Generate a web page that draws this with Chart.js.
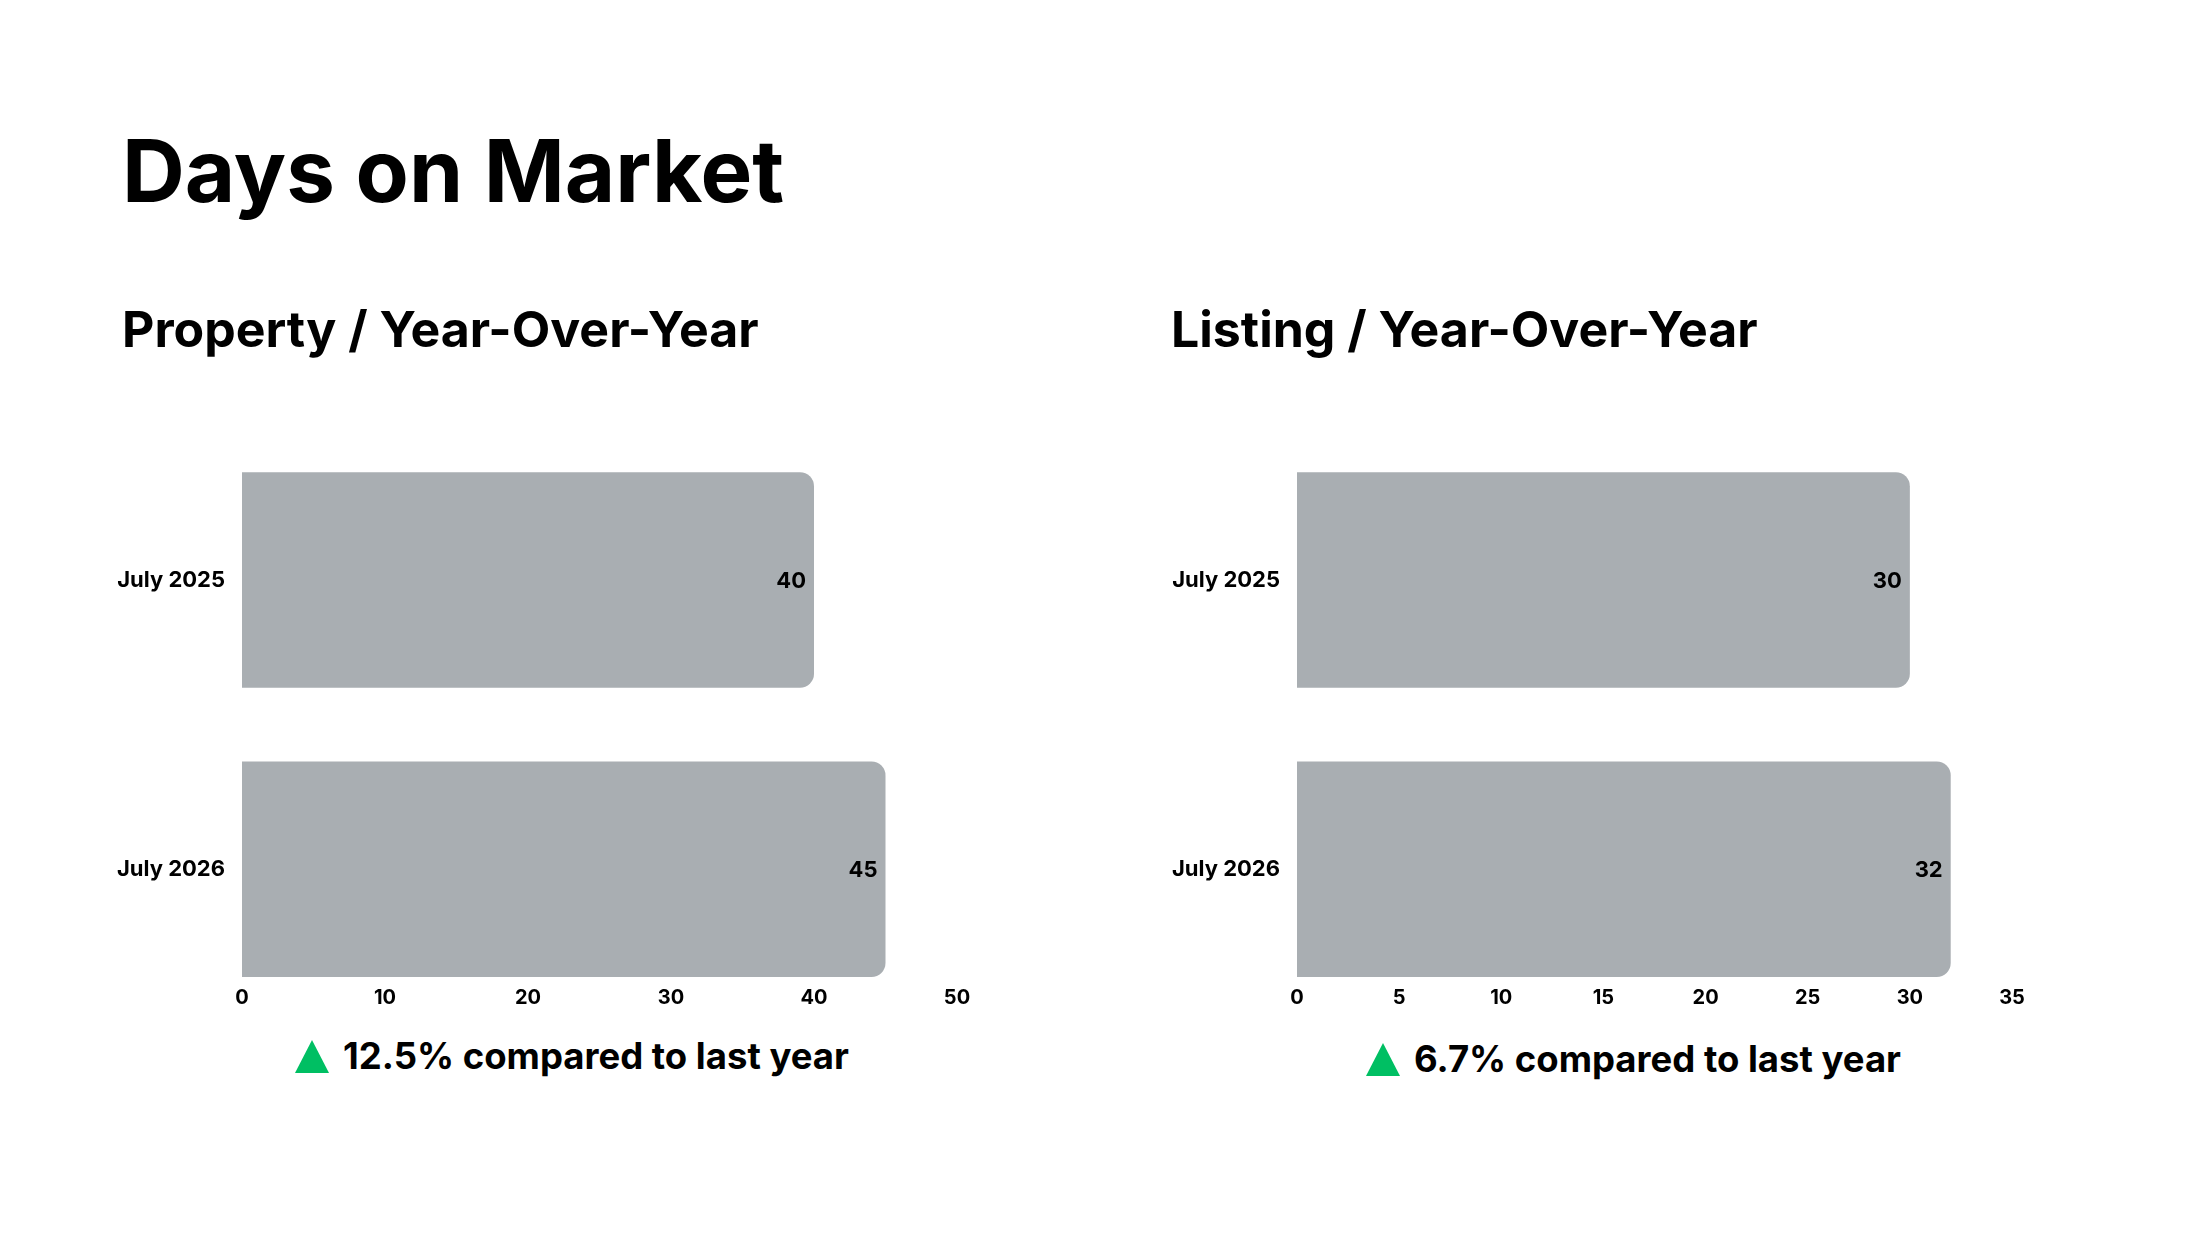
<!DOCTYPE html>
<html>
<head>
<meta charset="utf-8">
<script src="https://cdn.jsdelivr.net/npm/chart.js@4.4.1/dist/chart.umd.min.js"></script>
<style>
  html, body { margin: 0; padding: 0; background: #fff; }
  body { width: 2200px; height: 1237px; position: relative; overflow: hidden; font-family: Inter, "Open Sans", sans-serif; color: #000; }
  .txt { position: absolute; font-weight: 700; white-space: nowrap; line-height: 1; }
  #title { left: 122px; top: 127px; font-size: 87px; }
  .sub { top: 304px; font-size: 50px; }
  .foot { font-size: 36.5px; display: flex; align-items: center; }
  .tri { width: 0; height: 0; border-left: 17px solid transparent; border-right: 17px solid transparent; border-bottom: 33px solid #00bf63; margin-right: 14px; }
  .box { position: absolute; top: 391px; width: 900px; height: 626px; }
</style>
</head>
<body>
<div class="txt" id="title">Days on Market</div>
<div class="txt sub" style="left:122px">Property / Year-Over-Year</div>
<div class="txt sub" style="left:1171px">Listing / Year-Over-Year</div>

<div class="box" style="left:99px"><canvas id="property"></canvas></div>
<div class="box" style="left:1154px"><canvas id="listing"></canvas></div>

<div class="txt foot" style="left:295px; top:1038px"><span class="tri"></span><span id="footLeft"></span></div>
<div class="txt foot" style="left:1366px; top:1041px"><span class="tri"></span><span id="footRight"></span></div>

<script>
// Les données
var periods = ['July 2025', 'July 2026'];
var propertyDays = [40, 45];
var listingDays = [30, 32];
var propertyAxis = { max: 50, step: 10 };
var listingAxis = { max: 35, step: 5 };
var propertyChange = '12.5% compared to last year';
var listingChange = '6.7% compared to last year';

document.getElementById('footLeft').textContent = propertyChange;
document.getElementById('footRight').textContent = listingChange;

var fontFamily = 'Inter, "Open Sans", sans-serif';

// Petit plugin maison : écrit la valeur à la fin de chaque barre
var barValues = {
    id: 'barValues',
    afterDatasetsDraw: function (chart) {
        var ctx = chart.ctx;
        var meta = chart.getDatasetMeta(0);
        ctx.save();
        ctx.font = '700 22px ' + fontFamily;
        ctx.fillStyle = '#000';
        ctx.textAlign = 'right';
        ctx.textBaseline = 'middle';
        meta.data.forEach(function (bar, i) {
            ctx.fillText(chart.data.datasets[0].data[i].x, bar.x - 8, bar.y + 1);
        });
        ctx.restore();
    }
};

function buildBars(id, values, axis) {
    // Une barre par période : la position verticale est l'index de la période
    var points = values.map(function (v, i) { return { x: v, y: i }; });

    return new Chart(document.getElementById(id).getContext('2d'), {
        type: 'bar',
        data: {
            datasets: [{
                data: points,
                backgroundColor: '#a9aeb2',
                borderRadius: 14,
                borderSkipped: 'start',
                barPercentage: 0.745,
                categoryPercentage: 1
            }]
        },
        options: {
            indexAxis: 'y',
            responsive: true,
            maintainAspectRatio: false,
            animation: false,
            layout: { padding: { top: 40, right: 42, bottom: 0, left: 0 } },
            plugins: { legend: { display: false }, tooltip: { enabled: false } },
            scales: {
                x: {
                    type: 'linear',
                    min: 0,
                    max: axis.max,
                    grid: { display: false, drawTicks: false },
                    border: { display: false },
                    ticks: {
                        stepSize: axis.step,
                        padding: 1,
                        color: '#000',
                        font: { family: fontFamily, weight: 700, size: 20 }
                    },
                    afterFit: function (scale) { scale.height = 32; }
                },
                y: {
                    type: 'linear',
                    reverse: true,
                    offset: false,
                    min: -0.515,
                    max: 1.40,
                    grid: { display: false, drawTicks: false },
                    border: { display: false },
                    afterBuildTicks: function (scale) {
                        scale.ticks = periods.map(function (p, i) { return { value: i }; });
                    },
                    ticks: {
                        padding: 17,
                        color: '#000',
                        font: { family: fontFamily, weight: 700, size: 22 },
                        callback: function (value) { return periods[value]; }
                    },
                    afterFit: function (scale) { scale.width = 143; }
                }
            }
        },
        plugins: [barValues]
    });
}

buildBars('property', propertyDays, propertyAxis);
buildBars('listing', listingDays, listingAxis);
</script>
</body>
</html>
